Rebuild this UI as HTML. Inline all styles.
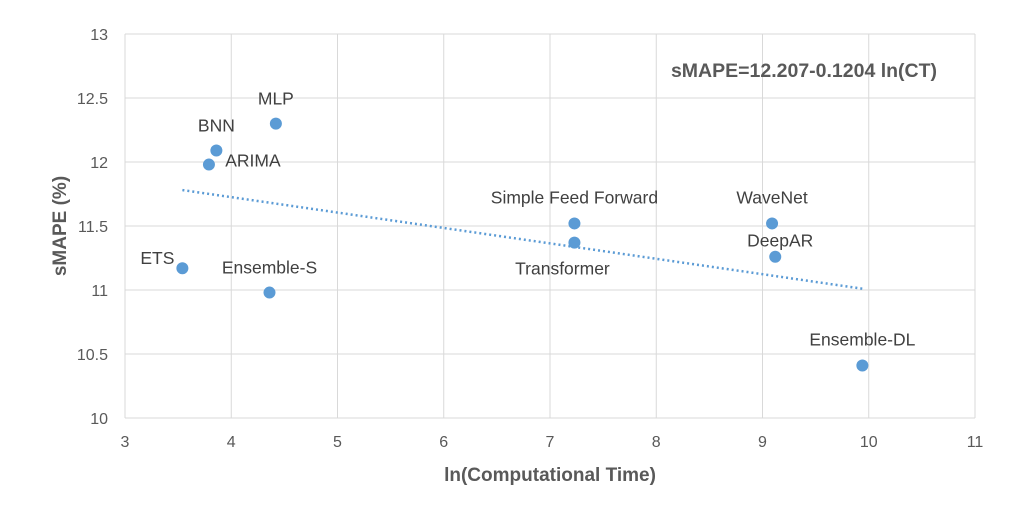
<!DOCTYPE html>
<html><head><meta charset="utf-8"><style>
body{margin:0;background:#fff;}
svg{display:block;font-family:"Liberation Sans",sans-serif;}
</style></head><body>
<svg id="chart" width="1036" height="508"></svg>
<script>
const names=["ETS","BNN","ARIMA","MLP","Ensemble-S","Simple Feed Forward","Transformer","WaveNet","DeepAR","Ensemble-DL"];
const xVals=[3.54,3.86,3.79,4.42,4.36,7.23,7.23,9.09,9.12,9.94];
const yVals=[11.17,12.09,11.98,12.30,10.98,11.52,11.37,11.52,11.26,10.41];
const xTicks=[3,4,5,6,7,8,9,10,11];
const yTicks=[10,10.5,11,11.5,12,12.5,13];
const trendIntercept=12.207, trendSlope=-0.1204;
const labelOffsets=[[-25,-10],[0,-25],[44,-4],[0,-25],[0,-25],[0,-26],[-12,26],[0,-26],[5,-16],[0,-26]];
const X0=125,X1=975,Y0=418,Y1=34;
const sx=v=>X0+(v-3)/(11-3)*(X1-X0);
const sy=v=>Y0-(v-10)/(13-10)*(Y0-Y1);
const svg=document.getElementById('chart');
const NS="http://www.w3.org/2000/svg";
function mk(tag,attrs,parent){const e=document.createElementNS(NS,tag);for(const k in attrs)e.setAttribute(k,attrs[k]);(parent||svg).appendChild(e);return e;}
yTicks.forEach(t=>{
 const l=mk('line',{x1:X0,x2:X1,y1:sy(t),y2:sy(t),stroke:'#d9d9d9','stroke-width':1});
 
 
 const tx=mk('text',{x:108,y:sy(t)+6,'text-anchor':'end','font-size':16,fill:'#595959'});
 tx.textContent=t;
 
 
});
xTicks.forEach(t=>{
 const l=mk('line',{x1:sx(t),x2:sx(t),y1:Y1,y2:Y0,stroke:'#d9d9d9','stroke-width':1});
 
 
 const tx=mk('text',{x:sx(t),y:447,'text-anchor':'middle','font-size':16,fill:'#595959'});
 tx.textContent=t;
 
 
});
const xmin=Math.min(...xVals),xmax=Math.max(...xVals);
const tl=mk('line',{x1:sx(xmin),y1:sy(trendIntercept+trendSlope*xmin),x2:sx(xmax),y2:sy(trendIntercept+trendSlope*xmax),stroke:'#5b9bd5','stroke-width':2.5,'stroke-dasharray':'2,3'});


names.forEach((n,i)=>{
 const c=mk('circle',{cx:sx(xVals[i]),cy:sy(yVals[i]),r:6,fill:'#5b9bd5'});
 
 
 const t=mk('text',{x:sx(xVals[i])+labelOffsets[i][0],y:sy(yVals[i])+labelOffsets[i][1]+6,'text-anchor':'middle','font-size':17.5,fill:'#404040'});
 t.textContent=n;
 
 
});
const eq=mk('text',{x:804,y:77,'text-anchor':'middle','font-size':19.5,'font-weight':'bold',fill:'#595959'});
eq.textContent='sMAPE=12.207-0.1204 ln(CT)';


const xt=mk('text',{x:550,y:481,'text-anchor':'middle','font-size':19,'font-weight':'bold',fill:'#595959'});
xt.textContent='ln(Computational Time)';


const yt=mk('text',{x:0,y:0,'text-anchor':'middle','font-size':19,'font-weight':'bold',fill:'#595959',transform:'translate(66,226) rotate(-90)'});
yt.textContent='sMAPE (%)';


</script>
</body></html>
